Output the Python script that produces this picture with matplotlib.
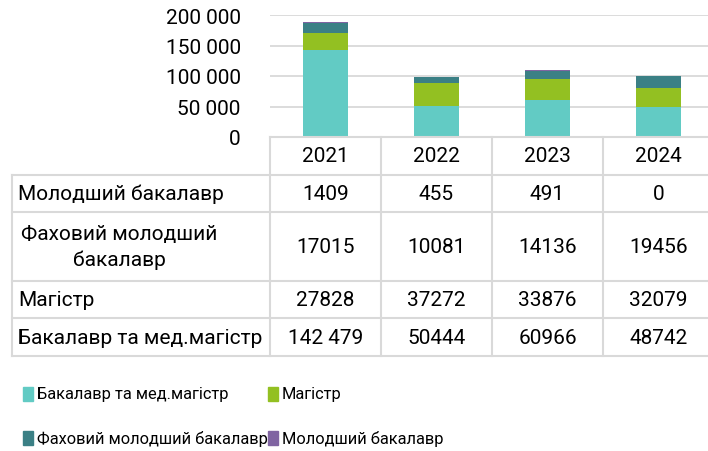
import matplotlib.pyplot as plt
from matplotlib.patches import Rectangle

plt.rcParams['font.family'] = ['Roboto', 'DejaVu Sans']

years = ['2021', '2022', '2023', '2024']
series_names = ['Молодший бакалавр', 'Фаховий молодший\nбакалавр', 'Магістр', 'Бакалавр та мед.магістр']
legend_names = ['Бакалавр та мед.магістр', 'Магістр', 'Фаховий молодший бакалавр', 'Молодший бакалавр']
molodshyi = [1409, 455, 491, 0]
fakhovyi = [17015, 10081, 14136, 19456]
magistr = [27828, 37272, 33876, 32079]
bakalavr = [142479, 50444, 60966, 48742]
yticks = [0, 50000, 100000, 150000, 200000]
ytick_labels = ['0', '50 000', '100 000', '150 000', '200 000']

c_bak = '#62CBC4'
c_mag = '#93C022'
c_fakh = '#3B8085'
c_mol = '#8064A2'
grid_c = '#D9D9D9'
fs = 15

W, H = 708, 452
fig = plt.figure(figsize=(W / 100, H / 100), dpi=100)


def fx(px):
    return px / W


def fy(py):
    return 1 - py / H


# chart area (pixels): x 270..714, y 16..138
x0, x1, ytop, ybot = 270, 714, 16, 138
ax = fig.add_axes([fx(x0), fy(ybot), fx(x1 - x0), (ybot - ytop) / H])
pos = list(range(len(years)))
bw = 0.4
bottom = [0] * 4
for vals, col in [(bakalavr, c_bak), (magistr, c_mag), (fakhovyi, c_fakh), (molodshyi, c_mol)]:
    ax.bar(pos, vals, bw, bottom=bottom, color=col, zorder=3)
    bottom = [b + v for b, v in zip(bottom, vals)]
ax.set_xlim(-0.5, 3.5)
ax.set_ylim(0, 200000)
ax.set_yticks(yticks)
ax.set_yticklabels(ytick_labels, fontsize=fs)
ax.tick_params(axis='y', length=0, pad=21)
ax.set_xticks([])
ax.grid(axis='y', color=grid_c, lw=1.3, zorder=0)
for s in ax.spines.values():
    s.set_visible(False)

# table
lc = grid_c
lw = 1.5
col_edges = [270, 381, 492, 603, 714]
row_edges = [176, 213, 282, 319, 357]
left = 12


def hline(y, xa, xb):
    fig.add_artist(plt.Line2D([fx(xa), fx(xb)], [fy(y), fy(y)], color=lc, lw=lw))


def vline(x, ya, yb):
    fig.add_artist(plt.Line2D([fx(x), fx(x)], [fy(ya), fy(yb)], color=lc, lw=lw))


hline(138, 270, 714)
for y in row_edges:
    hline(y, left, 714)
for x in col_edges:
    vline(x, 138, row_edges[-1])
vline(left, row_edges[0], row_edges[-1])

for i, yr in enumerate(years):
    xc = (col_edges[i] + col_edges[i + 1]) / 2
    fig.text(fx(xc), fy(157), yr, ha='center', va='center', fontsize=fs)

rows = [molodshyi, fakhovyi, magistr, bakalavr]


def fmt(v):
    return f'{v:,}'.replace(',', ' ') if v >= 100000 else str(v)


for r, (name, vals) in enumerate(zip(series_names, rows)):
    yc = (row_edges[r] + row_edges[r + 1]) / 2
    if '\n' in name:
        fig.text(fx(119), fy(yc), name, ha='center', va='center', fontsize=fs,
                 multialignment='center', linespacing=1.45)
    else:
        fig.text(fx(18), fy(yc), name, ha='left', va='center', fontsize=fs)
    for i, v in enumerate(vals):
        xc = (col_edges[i] + col_edges[i + 1]) / 2
        fig.text(fx(xc), fy(yc), fmt(v), ha='center', va='center', fontsize=fs)

# legend
leg_pos = [(23, 395), (268, 395), (23, 439), (268, 439)]
leg_cols = [c_bak, c_mag, c_fakh, c_mol]
for (lx, ly), name, col in zip(leg_pos, legend_names, leg_cols):
    fig.add_artist(Rectangle((fx(lx), fy(ly + 7)), fx(10), 14 / H, color=col))
    fig.text(fx(lx + 14), fy(ly), name, ha='left', va='center', fontsize=11.8)

fig.savefig('out.png', dpi=100)
